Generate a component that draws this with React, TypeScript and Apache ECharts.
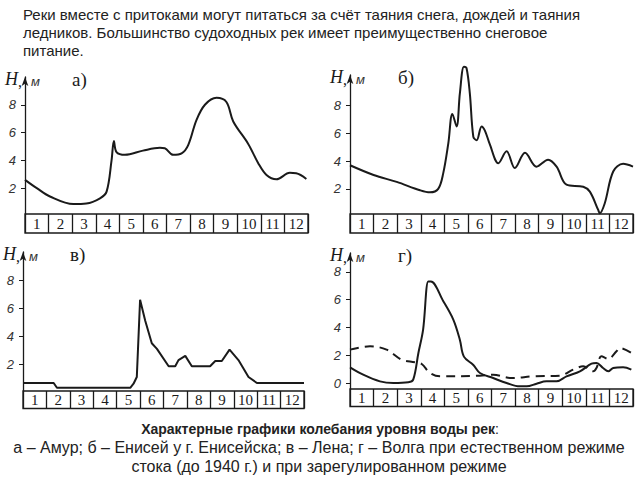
import React, { useEffect, useRef } from "react";
import * as echarts from "echarts";

const months = ["1", "2", "3", "4", "5", "6", "7", "8", "9", "10", "11", "12"];

// а – Амур
const amur: number[][] = [
  [0.0, 2.6], [0.5, 2.0], [1.06, 1.4], [2.05, 0.86], [2.6, 0.9], [3.18, 1.27], [3.46, 1.75],
  [3.67, 4.0], [3.77, 5.4], [3.88, 4.6], [4.24, 4.4], [5.0, 4.7], [5.72, 4.9], [5.93, 4.87],
  [6.28, 4.4], [6.64, 4.5], [6.92, 5.1], [7.27, 6.9], [7.63, 8.0], [8.12, 8.5], [8.54, 8.2],
  [8.83, 6.8], [9.46, 5.2], [9.89, 3.8], [10.24, 2.95], [10.66, 2.64], [11.23, 3.1],
  [11.5, 3.07], [11.93, 2.66],
];

// б – Енисей у г. Енисейска
const yenisei: number[][] = [
  [0.0, 3.7], [1.0, 3.0], [1.98, 2.5], [2.97, 1.9], [3.39, 1.75], [3.74, 2.0], [3.95, 3.1],
  [4.17, 5.3], [4.34, 7.4], [4.52, 6.5], [4.66, 8.9], [4.83, 10.8], [4.94, 10.7], [5.08, 8.9],
  [5.23, 5.75], [5.37, 5.5], [5.58, 6.5], [5.72, 6.2], [5.93, 5.2], [6.29, 3.85], [6.64, 4.7],
  [6.99, 3.5], [7.42, 4.6], [7.91, 3.6], [8.4, 4.1], [8.76, 3.6], [9.18, 2.3], [9.89, 2.15],
  [10.17, 1.8], [10.52, 0.5], [10.59, 0.25], [10.8, 0.95], [11.16, 3.25], [11.58, 3.8],
  [12.0, 3.6],
];

// в – Лена
const lena: number[][] = [
  [0.0, 0.67], [1.31, 0.67], [1.45, 0.33], [4.58, 0.33], [4.72, 0.62], [4.86, 1.1],
  [5.0, 6.6], [5.22, 5.1], [5.5, 3.5], [5.72, 3.1], [6.22, 1.86], [6.5, 1.86], [6.64, 2.3],
  [6.93, 2.6], [7.21, 1.86], [7.99, 1.86], [8.21, 2.24], [8.49, 2.24], [8.82, 3.05],
  [9.2, 2.3], [9.63, 1.1], [9.99, 0.67], [12.0, 0.67],
];

// г – Волга при естественном режиме
const volgaNatural: number[][] = [
  [0.0, 1.13], [0.56, 0.6], [1.27, 0.12], [1.84, 0.0], [2.47, 0.05], [2.68, 0.24],
  [2.9, 2.16], [3.1, 3.84], [3.32, 7.3], [3.43, 7.3], [3.95, 5.9], [4.38, 4.56], [4.66, 3.1],
  [4.83, 1.9], [5.23, 1.3], [5.51, 0.72], [6.07, 0.36], [6.64, 0.0], [7.2, -0.24],
  [7.49, -0.24], [7.91, -0.05], [8.33, 0.12], [8.76, 0.12], [9.18, 0.48], [9.75, 0.84],
  [10.24, 1.39], [10.45, 1.44], [10.73, 1.08], [10.95, 0.84], [11.16, 1.08], [11.58, 1.13],
  [11.93, 0.96],
];

// г – Волга при зарегулированном режиме
const volgaRegulated: number[][] = [
  [0.0, 2.4], [0.85, 2.64], [1.55, 2.4], [2.19, 1.68], [2.75, 1.49], [3.04, 1.37],
  [3.39, 0.72], [3.81, 0.48], [5.51, 0.53], [6.07, 0.6], [6.85, 0.36], [7.77, 0.48],
  [8.9, 0.53], [9.46, 0.96], [9.89, 1.2], [10.31, 0.84], [10.45, 1.08], [10.66, 1.92],
  [10.95, 1.73], [11.3, 2.28], [11.44, 2.52], [11.93, 2.16],
];

const ticksA = [2, 4, 6, 8];
const ticksD = [0, 2, 4, 6, 8];

const panelLabels = ["а)", "б)", "в)", "г)"];
const introLines = [
  "Реки вместе с притоками могут питаться за счёт таяния снега, дождей и таяния",
  "ледников. Большинство судоходных рек имеет преимущественно снеговое",
  "питание.",
];
const captionTitle = "Характерные графики колебания уровня воды рек";
const captionLines = [
  "а – Амур; б – Енисей у г. Енисейска; в – Лена; г – Волга при естественном режиме",
  "стока (до 1940 г.) и при зарегулированном режиме",
];

// layout of the four panels (pixels)
const panels = [
  { left: 25, width: 283, top: 77, plotBottom: 214, stripH: 19, min: 0.14, max: 10, ticks: ticksA },
  { left: 350, width: 283, top: 75, plotBottom: 214, stripH: 19, min: 0.19, max: 10.2, ticks: ticksA },
  { left: 23, width: 281, top: 252, plotBottom: 391, stripH: 17.5, min: 0.1, max: 10, ticks: ticksA },
  { left: 350, width: 283, top: 253, plotBottom: 389, stripH: 17.5, min: -0.43, max: 9.35, ticks: ticksD },
];

const INK = "#1a1a1a";

export default function App() {
  const ref = useRef<HTMLDivElement>(null);
  useEffect(() => {
    if (!ref.current) return;
    const chart = echarts.init(ref.current, undefined, { renderer: "svg" });

    const grid: any[] = [];
    const xAxis: any[] = [];
    const yAxis: any[] = [];
    panels.forEach((p) => {
      grid.push({
        left: p.left, top: p.top, width: p.width, height: p.plotBottom - p.top,
        outerBoundsMode: "none",
      });
      grid.push({
        left: p.left, top: p.plotBottom, width: p.width, height: p.stripH,
        show: true, borderColor: INK, borderWidth: 1.3, backgroundColor: "transparent",
        outerBoundsMode: "none",
      });
    });
    panels.forEach((p, i) => {
      xAxis.push({
        type: "value", gridIndex: i * 2, min: 0, max: 12, show: false,
      });
      xAxis.push({
        type: "category", gridIndex: i * 2 + 1, data: months, boundaryGap: true,
        axisLine: { show: false }, axisTick: { show: false },
        splitLine: { show: true, interval: 0, lineStyle: { color: INK, width: 1.3 } },
        axisLabel: {
          inside: true, margin: p.stripH / 2, verticalAlign: "middle", interval: 0,
          fontFamily: "Liberation Serif", fontSize: 15, color: INK,
        },
      });
      yAxis.push({
        type: "value", gridIndex: i * 2, min: p.min, max: p.max,
        splitLine: { show: false },
        axisLine: {
          show: true, onZero: false, symbol: ["none", "arrow"], symbolSize: [5, 9],
          lineStyle: { color: INK, width: 1.3 },
        },
        axisTick: { show: true, length: 4, customValues: p.ticks, lineStyle: { color: INK } },
        axisLabel: {
          customValues: p.ticks, margin: 9, fontFamily: "Liberation Sans",
          fontStyle: "italic", fontSize: 13, color: "#333",
        },
      });
      yAxis.push({ type: "value", gridIndex: i * 2 + 1, show: false, min: 0, max: 1 });
    });

    const lineSeries = (data: number[][], idx: number, smooth: number | boolean, extra: any = {}) => ({
      type: "line", xAxisIndex: idx * 2, yAxisIndex: idx * 2, data, showSymbol: false,
      smooth, clip: false, lineStyle: { color: INK, width: 2, ...(extra.lineStyle || {}) },
      z: 3,
    });

    const graphic: any[] = [];
    panels.forEach((p, i) => {
      const hTop = p.top - 7;
      graphic.push({
        type: "text", x: p.left - 20, y: hTop,
        style: { text: "H", fontFamily: "Liberation Serif", fontStyle: "italic", fontSize: 18, fill: INK },
      });
      graphic.push({
        type: "text", x: p.left - 7, y: hTop + 3,
        style: { text: ",", fontFamily: "Liberation Serif", fontSize: 16, fill: INK },
      });
      graphic.push({
        type: "text", x: p.left + 6, y: hTop + 5,
        style: { text: "м", fontFamily: "Liberation Sans", fontStyle: "italic", fontSize: 13, fill: "#333" },
      });
      graphic.push({
        type: "text", x: p.left + (i % 2 === 0 ? 47 : 48), y: hTop,
        style: { text: panelLabels[i], fontFamily: "Liberation Serif", fontSize: 19, fill: INK },
      });
    });
    introLines.forEach((t, k) => {
      graphic.push({
        type: "text", x: 23, y: 7 + k * 18,
        style: { text: t, fontFamily: "Liberation Sans", fontSize: 15, fill: "#222" },
      });
    });
    graphic.push({
      type: "text", x: 320, y: 422,
      style: {
        text: "{b|" + captionTitle + "}{n|:}", align: "center",
        rich: {
          b: { fontFamily: "Liberation Sans", fontSize: 14, fontWeight: "bold", fill: "#222" },
          n: { fontFamily: "Liberation Sans", fontSize: 14, fill: "#222" },
        },
      },
    });
    captionLines.forEach((t, k) => {
      graphic.push({
        type: "text", x: 319, y: 439 + k * 19,
        style: { text: t, align: "center", fontFamily: "Liberation Sans", fontSize: 16, fill: "#222" },
      });
    });

    chart.setOption({
      animation: false,
      backgroundColor: "#ffffff",
      grid, xAxis, yAxis,
      series: [
        lineSeries(amur, 0, 0.35),
        lineSeries(yenisei, 1, 0.35),
        lineSeries(lena, 2, false),
        lineSeries(volgaNatural, 3, 0.35),
        lineSeries(volgaRegulated, 3, 0.35, { lineStyle: { type: [9, 6] } }),
      ],
      graphic,
    });
    return () => chart.dispose();
  }, []);
  return (
    <div
      ref={ref}
      style={{ position: "fixed", left: 0, top: 0, width: 640, height: 480, background: "#fff" }}
    />
  );
}
